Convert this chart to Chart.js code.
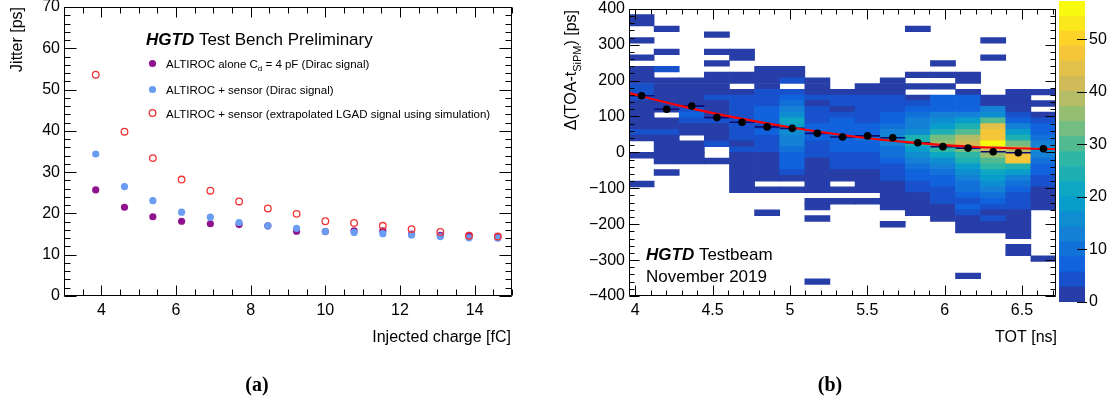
<!DOCTYPE html>
<html><head><meta charset="utf-8">
<script src="https://cdn.jsdelivr.net/npm/chart.js@4.4.0/dist/chart.umd.min.js"></script>
<style>
html,body{margin:0;padding:0;background:#fff;width:1116px;height:403px;overflow:hidden;}
canvas{position:absolute;top:0;}
#cA{left:0;} #cB{left:540px;} #cZ{left:1050px;}
</style></head><body>
<canvas id="cA" width="540" height="403"></canvas>
<canvas id="cB" width="520" height="403"></canvas>
<canvas id="cZ" width="66" height="403"></canvas>
<script>
// ---------------- Panel (a): jitter vs injected charge ----------------
const charge = [3.85, 4.62, 5.38, 6.15, 6.92, 7.69, 8.46, 9.23, 10.0, 10.77, 11.54, 12.31, 13.08, 13.85, 14.62];
const jitterAlone  = [25.7, 21.5, 19.2, 18.1, 17.5, 17.3, 17.0, 15.7, 15.6, 15.8, 15.8, 15.0, 14.7, 14.7, 14.4];
const jitterSensor = [34.4, 26.5, 23.1, 20.3, 19.1, 17.8, 17.0, 16.4, 15.6, 15.4, 15.1, 14.8, 14.4, 14.1, 14.0];
const jitterLGAD   = [53.6, 39.8, 33.4, 28.2, 25.5, 22.9, 21.2, 19.9, 18.1, 17.7, 17.0, 16.2, 15.5, 14.6, 14.4];
const xTicksA = [4, 6, 8, 10, 12, 14];
const yTicksA = [0, 10, 20, 30, 40, 50, 60, 70];

// ---------------- Panel (b): Delta(TOA - t_SiPM) vs TOT ----------------
const totCenters = [4.0412, 4.2035, 4.3659, 4.5282, 4.6906, 4.8529, 5.0153, 5.1776, 5.3400, 5.5023, 5.6647, 5.8270, 5.9894, 6.1517, 6.3141, 6.4764, 6.6388];
const totBinWidth = 0.16235;
const dtCenters = [392, 376, 360, 344, 328, 312, 296, 280, 264, 248, 232, 216, 200, 184, 168, 152, 136, 120, 104, 88,
  72, 56, 40, 24, 8, -8, -24, -40, -56, -72, -88, -104, -120, -136, -152, -168, -184, -200, -216, -232,
  -248, -264, -280, -296, -312, -328, -344, -360, -376, -392];
const dtBinWidth = 16;
// entries per cell, one row per dt bin (top row first), one column per TOT bin
const counts = [
  [0,0,0,0,0,0,0,0,0,0,0,0,0,0,0,0,0],
  [1,0,0,0,0,0,0,0,0,0,0,0,0,0,0,0,0],
  [1,0,0,0,0,0,0,0,0,0,0,0,0,0,0,0,0],
  [0,1,0,0,0,0,0,0,0,0,0,1,0,0,0,0,0],
  [0,0,0,1,0,0,0,0,0,0,0,0,0,0,0,0,0],
  [1,0,0,0,0,0,0,0,0,0,0,0,0,0,1,0,0],
  [0,0,0,0,0,0,0,0,0,0,0,0,0,0,0,0,0],
  [0,1,0,1,1,0,0,0,0,0,0,0,0,0,0,0,0],
  [1,0,0,0,1,0,0,0,0,0,0,0,0,0,1,0,0],
  [0,0,0,1,0,0,0,0,0,0,0,0,1,0,0,0,0],
  [1,4,0,0,0,1,1,0,0,0,0,0,0,0,0,0,0],
  [2,0,0,1,1,1,1,0,0,0,0,1,1,1,0,0,0],
  [1,2,1,1,1,2,4,1,0,0,1,0,0,1,0,0,0],
  [3,1,1,1,0,2,0,1,0,1,1,1,1,0,0,0,0],
  [5,2,1,2,1,4,5,2,1,1,1,0,0,1,0,1,1],
  [3,2,2,4,3,5,7,3,3,4,4,1,6,6,1,1,0],
  [2,1,2,1,3,5,9,1,4,4,3,4,6,6,2,1,1],
  [1,2,5,2,4,6,12,5,2,3,5,6,8,8,12,2,0],
  [2,0,6,2,4,7,16,4,5,5,6,9,14,12,15,4,2],
  [1,2,5,5,3,6,22,5,6,5,8,12,15,20,30,6,4],
  [2,1,2,2,5,5,20,6,6,7,10,14,18,24,44,12,6],
  [3,5,1,1,4,6,16,8,7,8,13,17,24,30,47,20,8],
  [2,2,0,2,3,4,14,7,6,9,16,23,33,38,46,24,10],
  [0,1,2,4,2,3,12,5,8,7,14,25,35,42,57,32,14],
  [0,2,1,0,4,5,10,4,6,6,11,19,27,34,41,38,16],
  [1,1,1,0,1,2,8,3,5,5,9,16,22,28,35,46,12],
  [0,1,1,1,2,2,6,2,3,4,7,12,17,24,30,48,10],
  [0,0,0,0,1,1,6,2,3,3,5,10,13,20,26,24,8],
  [0,1,0,0,1,1,4,1,2,2,4,8,10,16,22,18,6],
  [0,0,0,0,1,1,2,1,1,1,3,6,8,13,19,14,4],
  [1,0,0,0,1,0,0,1,0,1,2,4,6,11,15,10,3],
  [0,0,0,0,1,1,1,1,1,1,2,3,5,9,12,8,2],
  [0,0,0,0,0,0,0,0,0,0,1,2,4,7,9,5,1],
  [0,0,0,0,0,0,0,1,1,1,1,2,3,5,7,4,1],
  [0,0,0,0,0,0,0,1,0,0,1,1,1,6,5,3,1],
  [0,0,0,0,0,1,0,0,0,0,0,1,1,3,1,2,0],
  [0,0,0,0,0,0,0,1,0,0,0,0,1,2,5,1,0],
  [0,0,0,0,0,0,0,0,0,0,1,0,0,1,1,1,0],
  [0,0,0,0,0,0,0,0,0,0,0,0,0,1,1,1,0],
  [0,0,0,0,0,0,0,0,0,0,0,0,0,0,0,1,0],
  [0,0,0,0,0,0,0,0,0,0,0,0,0,0,0,0,0],
  [0,0,0,0,0,0,0,0,0,0,0,0,0,0,0,1,0],
  [0,0,0,0,0,0,0,0,0,0,0,0,0,0,0,1,0],
  [0,0,0,0,0,0,0,0,0,0,0,0,0,0,0,0,1],
  [0,0,0,0,0,0,0,0,0,0,0,0,0,0,0,0,0],
  [0,0,0,0,0,0,0,0,0,0,0,0,0,0,0,0,0],
  [0,0,0,0,0,0,0,0,0,0,0,0,0,1,0,0,0],
  [0,0,0,0,0,0,0,1,0,0,0,0,0,0,0,0,0],
  [0,0,0,0,0,0,0,0,0,0,0,0,0,0,0,0,0],
  [0,0,0,0,0,0,0,0,0,0,0,0,0,0,0,0,0]
];
const profileMean = [158, 120, 129, 97, 84, 71, 67, 53, 43, 46, 41, 27, 16, 12, 2, -1, 10];
const fitTot = [3.96, 4.3, 4.6, 5.0, 5.4, 5.8, 6.2, 6.72];
const fitDt  = [165, 129, 101, 70, 45, 27, 15, 9];
const xTicksB = [4, 4.5, 5, 5.5, 6, 6.5];
const yTicksB = [-400, -300, -200, -100, 0, 100, 200, 300, 400];
const zTicks = [0, 10, 20, 30, 40, 50];
const zMax = 57.3;

// ---------------- styling helpers ----------------
const FONT = '"Liberation Sans", Arial, Helvetica, sans-serif';
Chart.defaults.font.family = FONT;
Chart.defaults.color = '#000';
const PURPLE = '#8f138e', BLUE = '#6a9cf2', RED = '#f03434';

// ROOT kBird palette, 20 contour levels
const bStops = [0.0, 0.125, 0.25, 0.375, 0.5, 0.625, 0.75, 0.875, 1.0];
const bR = [0.2082, 0.0592, 0.0780, 0.0232, 0.1802, 0.5301, 0.8186, 0.9956, 0.9764];
const bG = [0.1664, 0.3599, 0.5041, 0.6419, 0.7178, 0.7492, 0.7328, 0.7862, 0.9832];
const bB = [0.5293, 0.8684, 0.8385, 0.7914, 0.6425, 0.4662, 0.3499, 0.1968, 0.0539];
const NLEV = 20;
function birdColor(f) {
  let j = 0;
  while (j < bStops.length - 2 && f > bStops[j + 1]) j++;
  const t = (f - bStops[j]) / (bStops[j + 1] - bStops[j]);
  const c = a => Math.round(255 * (a[j] + t * (a[j + 1] - a[j])));
  return `rgb(${c(bR)},${c(bG)},${c(bB)})`;
}
function levelColor(l) {
  const idx = Math.min(254, Math.floor((l + 0.99) * 255 / NLEV));
  return birdColor(idx / 254);
}
function zColor(z) {
  return levelColor(Math.min(NLEV - 1, Math.floor(0.01 + z * NLEV / zMax)));
}

function drawRich(ctx, parts, x, y, size, align) {
  ctx.save();
  const fonts = parts.map(p => `${p.i ? 'italic ' : ''}${p.b ? 'bold ' : ''}${p.sub ? Math.round(size * 0.68) : size}px ${FONT}`);
  let w = 0;
  parts.forEach((p, j) => { ctx.font = fonts[j]; w += ctx.measureText(p.t).width; });
  let cx = align === 'right' ? x - w : (align === 'center' ? x - w / 2 : x);
  ctx.textAlign = 'left'; ctx.textBaseline = 'alphabetic'; ctx.fillStyle = '#000';
  parts.forEach((p, j) => {
    ctx.font = fonts[j];
    ctx.fillText(p.t, cx, y + (p.sub ? size * 0.3 : 0));
    cx += ctx.measureText(p.t).width;
  });
  ctx.restore();
}
function drawRotated(ctx, parts, x, y, size) {
  ctx.save(); ctx.translate(x, y); ctx.rotate(-Math.PI / 2);
  drawRich(ctx, parts, 0, 0, size, 'right');
  ctx.restore();
}

// ROOT style frame with inward ticks on all four sides
function framePlugin(cfg) {
  return {
    id: 'rootFrame',
    afterDatasetsDraw(chart) {
      const { ctx, chartArea: a } = chart;
      const xs = chart.scales.x, ys = chart.scales.y;
      const L = Math.round(a.left) + 0.5, R = Math.round(a.right) - 0.5;
      const T = Math.round(a.top) + 0.5, B = Math.round(a.bottom) - 0.5;
      ctx.save();
      ctx.strokeStyle = '#000'; ctx.lineWidth = 1;
      ctx.beginPath();
      ctx.rect(L, T, R - L, B - T);
      const xt = (v, len) => { const p = Math.round(xs.getPixelForValue(v)) + 0.5; ctx.moveTo(p, B); ctx.lineTo(p, B - len); ctx.moveTo(p, T); ctx.lineTo(p, T + len); };
      const yt = (v, len) => { const p = Math.round(ys.getPixelForValue(v)) + 0.5; ctx.moveTo(L, p); ctx.lineTo(L + len, p); ctx.moveTo(R, p); ctx.lineTo(R - len, p); };
      const loop = (m, fn, len) => { const n = Math.round((m[1] - m[0]) / m[2]); for (let i = 0; i <= n; i++) fn(m[0] + i * m[2], len); };
      loop(cfg.xMinor, xt, cfg.xMinLen);
      loop(cfg.yMinor, yt, cfg.yMinLen);
      cfg.xMajor.forEach(v => xt(v, cfg.xMajLen));
      cfg.yMajor.forEach(v => yt(v, cfg.yMajLen));
      ctx.stroke();
      ctx.restore();
    }
  };
}

const fixedTicks = arr => s => { s.ticks = arr.map(v => ({ value: v })); };
const minusFmt = v => String(v).replace('-', '\u2212');

// ---------------- Chart (a) ----------------
const annA = {
  id: 'annA',
  afterDraw(chart) {
    const ctx = chart.ctx;
    drawRich(ctx, [{ t: 'HGTD', b: 1, i: 1 }, { t: ' Test Bench Preliminary' }], 146, 44.5, 17);
    const rows = [
      { y: 63.5, fill: PURPLE, stroke: null, parts: [{ t: 'ALTIROC alone C' }, { t: 'd', sub: 1 }, { t: ' = 4 pF (Dirac signal)' }] },
      { y: 89.5, fill: BLUE, stroke: null, parts: [{ t: 'ALTIROC + sensor (Dirac signal)' }] },
      { y: 113, fill: null, stroke: RED, parts: [{ t: 'ALTIROC + sensor (extrapolated LGAD signal using simulation)' }] }
    ];
    rows.forEach(r => {
      ctx.save();
      ctx.beginPath(); ctx.arc(152.5, r.y, r.fill ? 3.6 : 3.3, 0, Math.PI * 2);
      if (r.fill) { ctx.fillStyle = r.fill; ctx.fill(); }
      else { ctx.strokeStyle = r.stroke; ctx.lineWidth = 1.3; ctx.stroke(); }
      ctx.restore();
      drawRich(ctx, r.parts, 166, r.y + 4.5, 11.5);
    });
    drawRotated(ctx, [{ t: 'Jitter [ps]' }], 22, 7, 16);
    drawRich(ctx, [{ t: 'Injected charge [fC]' }], 511, 342, 16, 'right');
    ctx.save();
    ctx.font = 'bold 20px "Liberation Serif", "DejaVu Serif", serif';
    ctx.textAlign = 'center'; ctx.fillStyle = '#000';
    ctx.fillText('(a)', 257, 391);
    ctx.restore();
  }
};

new Chart(document.getElementById('cA'), {
  type: 'scatter',
  data: {
    datasets: [
      { data: charge.map((x, i) => ({ x, y: jitterAlone[i] })), pointRadius: 3.6, pointBackgroundColor: PURPLE, pointBorderWidth: 0, order: 2 },
      { data: charge.map((x, i) => ({ x, y: jitterSensor[i] })), pointRadius: 3.6, pointBackgroundColor: BLUE, pointBorderWidth: 0, order: 1 },
      { data: charge.map((x, i) => ({ x, y: jitterLGAD[i] })), pointRadius: 3.3, pointBackgroundColor: 'rgba(0,0,0,0)', pointBorderColor: RED, pointBorderWidth: 1.3, order: 0 }
    ]
  },
  options: {
    responsive: false, animation: false, events: [], devicePixelRatio: 1,
    layout: { padding: { left: 0, right: 28, top: 7, bottom: 0 } },
    plugins: { legend: { display: false }, tooltip: { enabled: false } },
    scales: {
      x: {
        type: 'linear', min: 3, max: 15, offset: false,
        grid: { display: false, drawTicks: false }, border: { display: false },
        afterBuildTicks: fixedTicks(xTicksA),
        afterFit: s => { s.height = 107; s.paddingLeft = 0; s.paddingRight = 0; },
        ticks: { font: { size: 16 }, padding: 5, maxRotation: 0, autoSkip: false, callback: v => String(v) }
      },
      y: {
        type: 'linear', min: 0, max: 70,
        grid: { display: false, drawTicks: false }, border: { display: false },
        afterBuildTicks: fixedTicks(yTicksA),
        afterFit: s => { s.width = 64; s.paddingTop = 0; s.paddingBottom = 0; },
        ticks: { font: { size: 16 }, padding: 4 }
      }
    }
  },
  plugins: [framePlugin({ xMajor: xTicksA, yMajor: yTicksA, xMinor: [3, 15, 0.5], yMinor: [0, 70, 2], xMajLen: 10, xMinLen: 6, yMajLen: 12, yMinLen: 6 }), annA]
});

// ---------------- Chart (b) ----------------
const heatData = [], heatColors = [];
counts.forEach((row, k) => row.forEach((z, i) => {
  if (z > 0) {
    heatData.push({ x: totCenters[i], y: [dtCenters[k] - dtBinWidth / 2, dtCenters[k] + dtBinWidth / 2] });
    heatColors.push(zColor(z));
  }
}));

const annB = {
  id: 'annB',
  afterDatasetDraw(chart, args) {
    if (args.meta.type !== 'bar') return;
    const { ctx } = chart; const xs = chart.scales.x, ys = chart.scales.y;
    ctx.save(); ctx.strokeStyle = '#0c0c70'; ctx.lineWidth = 1.6;
    ctx.beginPath();
    totCenters.forEach((x, i) => {
      const py = ys.getPixelForValue(profileMean[i]);
      ctx.moveTo(xs.getPixelForValue(x - totBinWidth / 2), py);
      ctx.lineTo(xs.getPixelForValue(x + totBinWidth / 2), py);
    });
    ctx.stroke(); ctx.restore();
  },
  afterDraw(chart) {
    const ctx = chart.ctx;
    drawRotated(ctx, [{ t: '\u0394(TOA-t' }, { t: 'SiPM', sub: 1 }, { t: ') [ps]' }], 36, 10, 16);
    drawRich(ctx, [{ t: 'TOT [ns]' }], 517, 342, 16, 'right');
    drawRich(ctx, [{ t: 'HGTD', b: 1, i: 1 }, { t: ' Testbeam' }], 106, 260, 17);
    drawRich(ctx, [{ t: 'November 2019' }], 106, 282, 17);
    ctx.save();
    ctx.font = 'bold 20px "Liberation Serif", "DejaVu Serif", serif';
    ctx.textAlign = 'center'; ctx.fillStyle = '#000';
    ctx.fillText('(b)', 290, 391);
    ctx.restore();
  }
};

new Chart(document.getElementById('cB'), {
  type: 'bar',
  data: {
    datasets: [
      { type: 'scatter', data: totCenters.map((x, i) => ({ x, y: profileMean[i] })), pointRadius: 3.8, pointBackgroundColor: '#000', pointBorderWidth: 0, order: 0 },
      { type: 'line', data: fitTot.map((x, i) => ({ x, y: fitDt[i] })), borderColor: '#ff0000', borderWidth: 2.2, pointRadius: 0, tension: 0.4, fill: false, order: 1 },
      { type: 'bar', data: heatData, backgroundColor: heatColors, borderWidth: 0, barPercentage: 1, categoryPercentage: 1, grouped: false, order: 2 }
    ]
  },
  options: {
    responsive: false, animation: false, events: [], devicePixelRatio: 1,
    layout: { padding: { left: 0, right: 3, top: 8.8, bottom: 0 } },
    plugins: { legend: { display: false }, tooltip: { enabled: false } },
    scales: {
      x: {
        type: 'linear', min: 3.96, max: 6.72, offset: false,
        grid: { display: false, drawTicks: false, offset: false }, border: { display: false },
        afterBuildTicks: fixedTicks(xTicksB),
        afterFit: s => { s.height = 107; s.paddingLeft = 0; s.paddingRight = 0; },
        ticks: { font: { size: 16 }, padding: 5, maxRotation: 0, autoSkip: false, callback: v => String(v) }
      },
      y: {
        type: 'linear', min: -400, max: 400,
        grid: { display: false, drawTicks: false }, border: { display: false },
        afterBuildTicks: fixedTicks(yTicksB),
        afterFit: s => { s.width = 89; s.paddingTop = 0; s.paddingBottom = 0; },
        ticks: { font: { size: 16 }, padding: 4, callback: minusFmt }
      }
    }
  },
  plugins: [framePlugin({ xMajor: xTicksB, yMajor: yTicksB, xMinor: [4, 6.7, 0.1], yMinor: [-400, 400, 20], xMajLen: 10, xMinLen: 5, yMajLen: 10, yMinLen: 5 }), annB]
});

// ---------------- colour bar ----------------
const zLevels = Array.from({ length: NLEV }, (_, i) => i);
const zTickPlugin = {
  id: 'zTicks',
  afterDatasetsDraw(chart) {
    const { ctx, chartArea: a } = chart; const ys = chart.scales.y;
    ctx.save(); ctx.strokeStyle = '#000'; ctx.lineWidth = 1.2; ctx.beginPath();
    zTicks.forEach(v => { const p = Math.round(ys.getPixelForValue(v)) + 0.5; ctx.moveTo(a.right - 8, p); ctx.lineTo(a.right + 2, p); });
    ctx.stroke(); ctx.restore();
  }
};
new Chart(document.getElementById('cZ'), {
  type: 'bar',
  data: { labels: [''], datasets: zLevels.map(l => ({ data: [zMax / NLEV], backgroundColor: levelColor(l), borderWidth: 0, barPercentage: 1, categoryPercentage: 1 })) },
  options: {
    responsive: false, animation: false, events: [], devicePixelRatio: 1,
    layout: { padding: { left: 9, right: 0, top: 1, bottom: 101 } },
    plugins: { legend: { display: false }, tooltip: { enabled: false } },
    scales: {
      x: { display: false, stacked: true },
      y: {
        stacked: true, position: 'right', min: 0, max: zMax,
        grid: { display: false, drawTicks: false }, border: { display: false },
        afterBuildTicks: fixedTicks(zTicks),
        afterFit: s => { s.width = 31; s.paddingTop = 0; s.paddingBottom = 0; },
        ticks: { font: { size: 16 }, padding: 4 }
      }
    }
  },
  plugins: [zTickPlugin]
});
</script>
</body></html>
